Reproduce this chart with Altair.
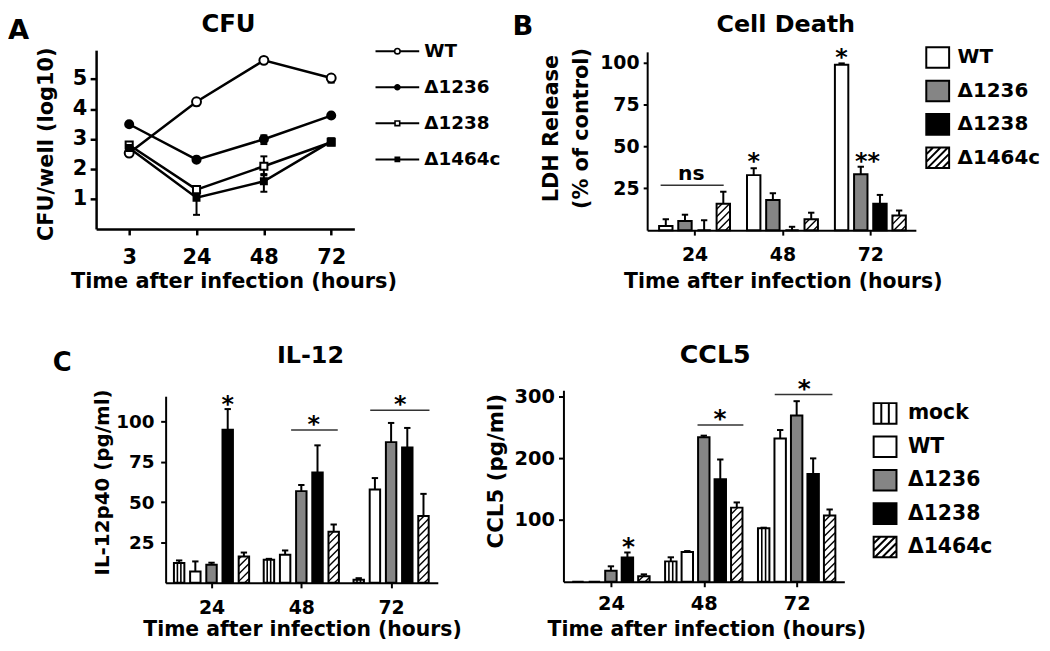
import altair as alt
import numpy as np
import pandas as pd

OFF = 8            # page margin: view coords = page coords - 8
W, H = 1041, 635
FONT = "DejaVu Sans"

# ---------------- data ----------------
# Panel A - CFU (log10)
cfu_hours = ["3", "24", "48", "72"]
strains = ["WT", "Δ1236", "Δ1238", "Δ1464c"]
cfu_wt = [2.53, 4.24, 5.62, 5.03]
cfu_d1236 = [3.49, 2.31, 2.99, 3.78]
cfu_d1238 = [2.80, 1.31, 2.09, 2.89]
cfu_d1464c = [2.70, 1.04, 1.59, 2.92]
cfu_err_lo = {"WT": [0.05, 0.12, 0.05, 0.15], "Δ1236": [0.05, 0.05, 0.16, 0.05],
              "Δ1238": [0.08, 0.10, 0.30, 0.10], "Δ1464c": [0.08, 0.57, 0.35, 0.10]}
cfu_err_hi = {"WT": [0.05, 0.10, 0.05, 0.05], "Δ1236": [0.05, 0.05, 0.13, 0.05],
              "Δ1238": [0.08, 0.10, 0.33, 0.10], "Δ1464c": [0.08, 0.10, 0.24, 0.10]}

# Panel B - LDH release (% of control)
ldh_hours = ["24", "48", "72"]
ldh_wt = [2.5, 32.8, 98.6]
ldh_d1236 = [5.5, 18.0, 33.3]
ldh_d1238 = [0.0, 0.0, 15.7]
ldh_d1464c = [15.7, 6.5, 8.8]
ldh_err_wt = [4.0, 4.1, 0.8]
ldh_err_d1236 = [3.7, 4.0, 4.5]
ldh_err_d1238 = [5.9, 2.0, 5.3]
ldh_err_d1464c = [7.2, 3.9, 2.9]

# Panel C - cytokines
cyt_hours = ["24", "48", "72"]
cyt_strains = ["mock", "WT", "Δ1236", "Δ1238", "Δ1464c"]
il12_mock = [12.3, 14.3, 2.0]
il12_wt = [7.0, 17.4, 57.9]
il12_d1236 = [11.2, 56.9, 87.3]
il12_d1238 = [95.0, 68.5, 83.9]
il12_d1464c = [16.4, 31.7, 41.5]
il12_err_mock = [1.6, 0.6, 0.9]
il12_err_wt = [6.3, 2.7, 7.1]
il12_err_d1236 = [1.3, 3.8, 11.9]
il12_err_d1238 = [12.8, 16.8, 12.2]
il12_err_d1464c = [2.4, 4.5, 13.7]

ccl5_mock = [0.0, 33.0, 86.7]
ccl5_wt = [0.0, 48.0, 232.0]
ccl5_d1236 = [18.0, 233.8, 269.3]
ccl5_d1238 = [39.4, 165.9, 174.4]
ccl5_d1464c = [9.0, 120.0, 107.4]
ccl5_err_mock = [0.0, 6.6, 0.8]
ccl5_err_wt = [0.0, 1.7, 13.6]
ccl5_err_d1236 = [7.0, 2.7, 23.0]
ccl5_err_d1238 = [8.0, 32.0, 25.3]
ccl5_err_d1464c = [3.0, 8.4, 9.6]

# significance marks: (group, from-bar, to-bar, line value, text, text bar pos, text value)
ldh_marks = [(0, -0.27, 3.02, 26.8, "ns", 1.33, 33.5), (1, None, None, None, "*", 0.0, 44.7),
             (2, None, None, None, "*", 0.0, 106.9), (2, None, None, None, "**", 1.35, 44.7)]
il12_marks = [(0, None, None, None, "*", 3.0, 114.5), (1, 1.37, 4.25, 94.8, "*", 2.76, 102.0),
              (2, 0.71, 4.37, 107.1, "*", 2.57, 114.4)]
ccl5_marks = [(0, None, None, None, "*", 3.07, 66.7), (1, 1.62, 4.40, 253.7, "*", 2.98, 274.0),
              (2, 0.67, 4.17, 303.0, "*", 2.46, 322.0)]

# ---------------- styles ----------------
FILL = {"mock": "white", "WT": "white", "Δ1236": "#858585", "Δ1238": "black", "Δ1464c": "white"}
PATTERN = {"mock": "stripes", "Δ1464c": "hatch"}


def box_path(name):
    p = "M-1,-0.9H1V0.9H-1Z"
    if PATTERN.get(name) == "stripes":
        p += " M-0.33,-0.9V0.9 M0.33,-0.9V0.9"
    elif PATTERN.get(name) == "hatch":
        for c in [-1.3, -0.65, 0.0, 0.65, 1.3]:
            xs, xe = max(-1.0, c - 0.9), min(1.0, c + 0.9)
            p += " M%.3f,%.3fL%.3f,%.3f" % (xs, c - xs, xe, c - xe)
    return p


def lab_expr(labels):
    return "[" + ",".join("'%s'" % l for l in labels) + "][round(datum.value)]"


def text_at(txt, x, y, size, align="center"):
    return alt.Chart(pd.DataFrame({"t": [txt]})).mark_text(
        align=align, baseline="alphabetic", font=FONT, fontWeight="bold",
        fontSize=size, color="black").encode(
        text="t:N", x=alt.value(x - OFF), y=alt.value(y - OFF))


def x_axis(labels, values, axis_y, fs, pad, title, tx, tbase, fst, tick=6, dw=2):
    return alt.Axis(orient="bottom", offset=(axis_y - OFF) - H, values=values,
                    labelExpr=lab_expr(labels), tickSize=tick, tickWidth=dw, domainWidth=dw,
                    labelFontSize=fs, labelPadding=pad, labelBaseline="alphabetic",
                    title=title, titleFontSize=fst, titleX=tx - OFF, titleY=tbase - axis_y,
                    titleBaseline="alphabetic", titleAlign="center")


def y_axis(values, axis_x, fs, pad, title, tx, ty, fst, tick=5, dw=2, lh=None):
    kw = {}
    if lh:
        kw["titleLineHeight"] = lh
    return alt.Axis(orient="left", offset=-(axis_x - OFF), values=values, tickSize=tick,
                    tickWidth=dw, domainWidth=dw, labelFontSize=fs, labelPadding=pad,
                    title=title, titleFontSize=fst, titleAngle=270, titleX=tx - axis_x,
                    titleY=ty - OFF, titleBaseline="middle", titleAlign="center", **kw)


def hatch_segments(xl, value, bw, gstep, yu, spacing=7.5):
    h = value * yu
    out = []
    c = -bw + spacing * 0.6
    while c < h:
        xs, xe = max(0.0, -c), min(bw, h - c)
        if xe > xs:
            out.append(dict(x=xl + xs / gstep, y=(c + xs) / yu, x2=xl + xe / gstep, y2=(c + xe) / yu))
        c += spacing
    return out


def bar_panel(hours, names, vals, errs, G, xax, yax, marks, fs_mark):
    n = len(names)
    mid = (n - 1) / 2
    spu, bwu, capu = G["sp"] / G["gstep"], G["bw"] / G["gstep"], 3.2 / G["gstep"]
    rows, hatch, stripes = [], [], []
    for si, nm in enumerate(names):
        for gi, h in enumerate(hours):
            v, e = vals[si][gi], errs[si][gi]
            xc = gi + (si - mid) * spu
            xl, xr = xc - bwu / 2, xc + bwu / 2
            rows.append(dict(series=nm, hour=h, xc=xc, xl=xl, xr=xr, base=0.0, value=v,
                             top=v + e, err=e, cl=xc - capu, cr=xc + capu))
            if PATTERN.get(nm) == "hatch" and v > 0:
                hatch += hatch_segments(xl, v, G["bw"], G["gstep"], G["yu"])
            elif PATTERN.get(nm) == "stripes" and v > 0:
                for f in (1 / 3, 2 / 3):
                    stripes.append(dict(x=xl + f * bwu, y=0.0, y2=v))
    df = pd.DataFrame(rows)
    xs = alt.Scale(domain=[(G["xl"] - G["g0"]) / G["gstep"], (G["xr"] - G["g0"]) / G["gstep"]],
                   range=[G["xl"] - OFF, G["xr"] - OFF], zero=False, nice=False)
    ys = alt.Scale(domain=[0, (G["y0"] - G["ytop"]) / G["yu"]],
                   range=[G["y0"] - OFF, G["ytop"] - OFF], zero=False, nice=False)

    def X(f):
        return alt.X(f, type="quantitative", scale=xs, axis=xax)

    def Y(f):
        return alt.Y(f, type="quantitative", scale=ys, axis=yax)

    base = alt.Chart(df)
    bars = base.mark_rect(stroke="black", strokeWidth=2).encode(
        x=X("xl"), x2="xr:Q", y=Y("base"), y2="value:Q",
        fill=alt.Fill("series:N", scale=alt.Scale(domain=names, range=[FILL[s] for s in names]),
                      legend=None))
    layers = [bars]
    if hatch:
        layers.append(alt.Chart(pd.DataFrame(hatch)).mark_rule(color="black", strokeWidth=1.4).encode(
            x=X("x"), x2="x2:Q", y=Y("y"), y2="y2:Q"))
    if stripes:
        layers.append(alt.Chart(pd.DataFrame(stripes)).mark_rule(color="black", strokeWidth=1.6).encode(
            x=X("x"), y=Y("y"), y2="y2:Q"))
    ebase = base.transform_filter("datum.err > 0")
    layers.append(ebase.mark_rule(color="black", strokeWidth=2).encode(x=X("xc"), y=Y("value"), y2="top:Q"))
    layers.append(ebase.mark_rule(color="black", strokeWidth=2).encode(x=X("cl"), x2="cr:Q", y=Y("top")))
    lines, texts = [], []
    for g, s0, s1, yl, txt, st, yt in marks:
        if s0 is not None:
            lines.append(dict(x=g + (s0 - mid) * spu, x2=g + (s1 - mid) * spu, y=yl))
        k = 0.59 if "*" in txt else 0.28
        fs = fs_mark if "*" in txt else fs_mark * 0.85
        texts.append(dict(x=g + (st - mid) * spu, y=yt - k * fs / G["yu"], t=txt, fs=fs))
    if lines:
        layers.append(alt.Chart(pd.DataFrame(lines)).mark_rule(color="#333333", strokeWidth=1.5).encode(
            x=X("x"), x2="x2:Q", y=Y("y")))
    tdf = pd.DataFrame(texts)
    for fs in sorted(set(tdf["fs"])):
        layers.append(alt.Chart(tdf[tdf["fs"] == fs]).mark_text(
            baseline="alphabetic", align="center", font=FONT, fontWeight="bold", fontSize=fs,
            color="black").encode(x=X("x"), y=Y("y"), text="t:N"))
    return alt.layer(*layers)


def box_legend(names, cx, r0, r1, lx, fs, box=23):
    df = pd.DataFrame({"series": names, "label": names})
    ys = alt.Scale(type="point", domain=names, range=[r0 - OFF, r1 - OFF], padding=0)
    sym = alt.Chart(df).mark_point(filled=True, stroke="black", strokeWidth=2, opacity=1,
                                   size=box * box).encode(
        x=alt.value(cx - OFF), y=alt.Y("series:N", scale=ys, axis=None),
        shape=alt.Shape("series:N", scale=alt.Scale(domain=names, range=[box_path(s) for s in names]),
                        legend=None),
        fill=alt.Fill("series:N", scale=alt.Scale(domain=names, range=[FILL[s] for s in names]),
                      legend=None))
    txt = alt.Chart(df).mark_text(align="left", baseline="middle", font=FONT, fontWeight="bold",
                                  fontSize=fs, color="black").encode(
        x=alt.value(lx - OFF), y=alt.Y("series:N", scale=ys, axis=None), text="label:N")
    return alt.layer(sym, txt)


# ---------------- Panel A ----------------
GA = dict(xl=96.7, xr=356.7, c0=130.0, step=67.8, y0=228.3, yu=30.2, ytop=48.3)
cfu_vals = {"WT": cfu_wt, "Δ1236": cfu_d1236, "Δ1238": cfu_d1238, "Δ1464c": cfu_d1464c}
rowsA = []
for nm in strains:
    for i, h in enumerate(cfu_hours):
        v = cfu_vals[nm][i]
        rowsA.append(dict(series=nm, xi=i, v=v, lo=v - cfu_err_lo[nm][i], hi=v + cfu_err_hi[nm][i],
                          cl=i - 3.5 / GA["step"], cr=i + 3.5 / GA["step"]))
dfA = pd.DataFrame(rowsA)
xsA = alt.Scale(domain=[(GA["xl"] - GA["c0"]) / GA["step"], (GA["xr"] - GA["c0"]) / GA["step"]],
                range=[GA["xl"] - OFF, GA["xr"] - OFF], zero=False, nice=False)
ysA = alt.Scale(domain=[0, (GA["y0"] - GA["ytop"]) / GA["yu"]],
                range=[GA["y0"] - OFF, GA["ytop"] - OFF], zero=False, nice=False)
xaxA = x_axis(cfu_hours, [0, 1, 2, 3], GA["y0"], 21, 29, "Time after infection (hours)", 235, 287, 21,
              tick=6, dw=2.5)
yaxA = y_axis([1, 2, 3, 4, 5], GA["xl"], 21, 3.5, "CFU/well (log10)", 46.7, 142.5, 21, tick=6, dw=2.5)


def XA(f):
    return alt.X(f, type="quantitative", scale=xsA, axis=xaxA)


def YA(f):
    return alt.Y(f, type="quantitative", scale=ysA, axis=yaxA)


shape_sc = alt.Scale(domain=strains, range=["circle", "circle", "square", "square"])
fill_sc = alt.Scale(domain=strains, range=["white", "black", "white", "black"])
baseA = alt.Chart(dfA)
panelA = alt.layer(
    baseA.mark_line(color="black", strokeWidth=2.5).encode(x=XA("xi"), y=YA("v"), detail="series:N"),
    baseA.mark_rule(color="black", strokeWidth=2).encode(x=XA("xi"), y=YA("lo"), y2="hi:Q"),
    baseA.mark_rule(color="black", strokeWidth=2).encode(x=XA("cl"), x2="cr:Q", y=YA("lo")),
    baseA.mark_rule(color="black", strokeWidth=2).encode(x=XA("cl"), x2="cr:Q", y=YA("hi")),
    baseA.mark_point(filled=True, stroke="black", strokeWidth=2, opacity=1).encode(
        x=XA("xi"), y=YA("v"),
        shape=alt.Shape("series:N", scale=shape_sc, legend=None),
        fill=alt.Fill("series:N", scale=fill_sc, legend=None),
        size=alt.Size("series:N", scale=alt.Scale(domain=strains, range=[81, 36, 94, 49]), legend=None)),
)

dfLA = pd.DataFrame({"series": strains, "label": strains})
ysLA = alt.Scale(type="point", domain=strains, range=[49.3 - OFF, 158.3 - OFF], padding=0)
legendA = alt.layer(
    alt.Chart(dfLA).mark_rule(color="black", strokeWidth=2).encode(
        x=alt.value(378 - OFF), x2=alt.value(422 - OFF), y=alt.Y("series:N", scale=ysLA, axis=None)),
    alt.Chart(dfLA).mark_point(filled=True, stroke="black", strokeWidth=1.6, opacity=1).encode(
        x=alt.value(400 - OFF), y=alt.Y("series:N", scale=ysLA, axis=None),
        shape=alt.Shape("series:N", scale=shape_sc, legend=None),
        fill=alt.Fill("series:N", scale=fill_sc, legend=None),
        size=alt.Size("series:N", scale=alt.Scale(domain=strains, range=[30, 18, 38, 28]), legend=None)),
    alt.Chart(dfLA).mark_text(align="left", baseline="middle", font=FONT, fontWeight="bold",
                              fontSize=18.5, color="black").encode(
        x=alt.value(427 - OFF), y=alt.Y("series:N", scale=ysLA, axis=None), text="label:N"),
)

# ---------------- Panel B ----------------
GB = dict(xl=651.5, xr=922.0, g0=699.2, gstep=88.5, sp=19.3, bw=13.5, y0=229.5, yu=1.689, ytop=50.0)
xaxB = x_axis(ldh_hours, [0, 1, 2], GB["y0"], 19, 25.5, "Time after infection (hours)", 788, 287, 20.5,
              tick=5)
yaxB = y_axis([25, 50, 75, 100], GB["xl"], 19, 4.2, ["LDH Release", "(% of control)"], 555, 126.7, 21,
              tick=4, lh=30)
panelB = bar_panel(ldh_hours, strains,
                   [ldh_wt, ldh_d1236, ldh_d1238, ldh_d1464c],
                   [ldh_err_wt, ldh_err_d1236, ldh_err_d1238, ldh_err_d1464c],
                   GB, xaxB, yaxB, ldh_marks, 24)
legendB = box_legend(strains, 944, 55.7, 156.7, 964, 20)

# ---------------- Panel C: IL-12 ----------------
GI = dict(xl=166.7, xr=440.7, g0=212.9, gstep=90.4, sp=16.3, bw=10.5, y0=584.6, yu=1.623, ytop=396.7)
xaxI = x_axis(cyt_hours, [0, 1, 2], GI["y0"], 19, 25.4, "Time after infection (hours)", 304, 638, 20.5,
              tick=5)
yaxI = y_axis([25, 50, 75, 100], GI["xl"], 18.5, 6.7, "IL-12p40 (pg/ml)", 103.3, 483, 20, tick=5)
panelI = bar_panel(cyt_hours, cyt_strains,
                   [il12_mock, il12_wt, il12_d1236, il12_d1238, il12_d1464c],
                   [il12_err_mock, il12_err_wt, il12_err_d1236, il12_err_d1238, il12_err_d1464c],
                   GI, xaxI, yaxI, il12_marks, 24)

# ---------------- Panel C: CCL5 ----------------
GC = dict(xl=567.2, xr=850.0, g0=615.0, gstep=93.5, sp=16.6, bw=11.5, y0=583.5, yu=0.622, ytop=390.7)
xaxC = x_axis(cyt_hours, [0, 1, 2], GC["y0"], 19.5, 23.2, "Time after infection (hours)", 711, 638, 20.5,
              tick=5)
yaxC = y_axis([100, 200, 300], GC["xl"], 19.5, 4, "CCL5 (pg/ml)", 500, 471.7, 21.5, tick=5)
panelC = bar_panel(cyt_hours, cyt_strains,
                   [ccl5_mock, ccl5_wt, ccl5_d1236, ccl5_d1238, ccl5_d1464c],
                   [ccl5_err_mock, ccl5_err_wt, ccl5_err_d1236, ccl5_err_d1238, ccl5_err_d1464c],
                   GC, xaxC, yaxC, ccl5_marks, 25)
legendC = box_legend(cyt_strains, 891, 414, 548.5, 914, 20.5)

# ---------------- titles / panel letters ----------------
titles = [
    text_at("A", 8, 36.7, 27.5, "left"),
    text_at("CFU", 230, 30.5, 24.5),
    text_at("B", 516, 33.3, 27.5, "left"),
    text_at("Cell Death", 791, 30.5, 24),
    text_at("C", 53, 371.7, 26, "left"),
    text_at("IL-12", 312.5, 363.3, 24),
    text_at("CCL5", 720, 363.3, 25.5),
]

chart = alt.layer(panelA, legendA, panelB, legendB, panelI, panelC, legendC, *titles).resolve_scale(
    x="independent", y="independent", fill="independent", shape="independent", size="independent"
).resolve_axis(x="independent", y="independent").properties(
    width=W, height=H, autosize=alt.AutoSizeParams(type="none"), padding=0
).configure_view(stroke=None).configure_axis(
    labelFont=FONT, titleFont=FONT, labelFontWeight="bold", titleFontWeight="bold",
    labelColor="black", titleColor="black", domainColor="black", tickColor="black",
    grid=False, labelFlush=False, labelOverlap=False
)

chart.save("out.html", embed_options={"renderer": "svg", "actions": False})
